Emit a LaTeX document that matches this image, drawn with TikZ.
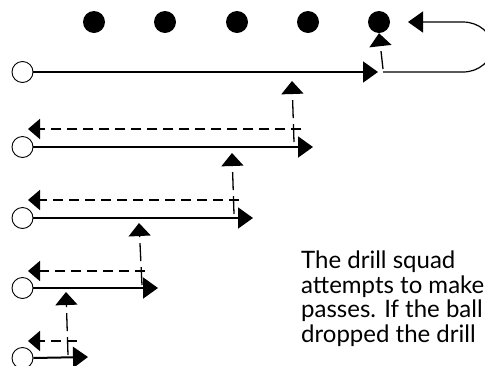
\documentclass[tikz,border=0pt]{standalone}
\usepackage{fontspec}
\setmainfont{Lato}
\usepackage{tikz}
\usetikzlibrary{arrows.meta}

\tikzset{
  ball/.style={circle, fill=black, minimum size=22pt, inner sep=0pt},
  player/.style={circle, draw, line width=0.9pt, minimum size=21pt, inner sep=0pt},
  run/.style={line width=2pt, -{Triangle[length=15pt,width=21pt]}},
  back/.style={line width=2pt, dash pattern=on 10pt off 6pt, -{Triangle[length=12pt,width=20pt]}},
  pass/.style={line width=1.3pt, dash pattern=on 18pt off 6pt, -{Triangle[length=13pt,width=22pt]}},
  loopline/.style={line width=1.2pt, -{Triangle[length=15pt,width=21pt]}},
  note/.style={anchor=base west, align=left, inner sep=0pt, font=\fontsize{24}{24.4}\selectfont}
}

\begin{document}
\begin{tikzpicture}[x=1pt, y=-1pt]
  \useasboundingbox (0,0) rectangle (485,365);
  \clip (0,0) rectangle (485,365);

  % balls on the top line
  \node[ball] (b1) at (94,22) {};
  \node[ball] (b2) at (165,22) {};
  \node[ball] (b3) at (237,22) {};
  \node[ball] (b4) at (308,22) {};
  \node[ball] (b5) at (379,22) {};

  % players
  \node[player] (p1) at (22.5,72) {};
  \node[player] (p2) at (22.5,147) {};
  \node[player] (p3) at (22.5,218) {};
  \node[player] (p4) at (22.5,288) {};
  \node[player] (p5) at (22.5,358) {};

  % runs
  \coordinate (r1) at (378,72);
  \coordinate (r2) at (313,147);
  \coordinate (r3) at (253,218);
  \coordinate (r4) at (158,288);
  \coordinate (r5) at (88,357);
  \draw[run] (p1.east) -- (r1);
  \draw[run] (p2.east) -- (r2);
  \draw[run] (p3.east) -- (r3);
  \draw[run] (p4.east) -- (r4);
  \draw[run] (p5.east) -- (r5);

  % way back
  \coordinate (w2) at (301,129);  \coordinate (h2) at (28,129);
  \coordinate (w3) at (239,200);  \coordinate (h3) at (28,200);
  \coordinate (w4) at (145,271);  \coordinate (h4) at (28,271);
  \coordinate (w5) at (77,341);   \coordinate (h5) at (28,341);
  \draw[back] (w2) -- (h2);
  \draw[back] (w3) -- (h3);
  \draw[back] (w4) -- (h4);
  \draw[back] (w5) -- (h5);

  % passes
  \coordinate (s1) at (383,69);
  \coordinate (s2) at (294,142);  \coordinate (t2) at (292,81);
  \coordinate (s3) at (234,214);  \coordinate (t3) at (232,153);
  \coordinate (s4) at (142,285);  \coordinate (t4) at (139,223);
  \coordinate (s5) at (68,355);   \coordinate (t5) at (66,292);
  \draw[pass] (s1) -- (b5.south);
  \draw[pass] (s2) -- (t2);
  \draw[pass] (s3) -- (t3);
  \draw[pass] (s4) -- (t4);
  \draw[pass] (s5) -- (t5);

  % back to the end of the line
  \coordinate (k) at (383,72);
  \coordinate (c) at (408,22);
  \draw[loopline] (k) -- (463,72) arc[start angle=90, end angle=-90, x radius=29, y radius=25] -- (c);

  \node[note] (txt) at (301,342) {The drill squad\\attempts to make\\passes. If the ball\\dropped the drill};
\end{tikzpicture}
\end{document}
